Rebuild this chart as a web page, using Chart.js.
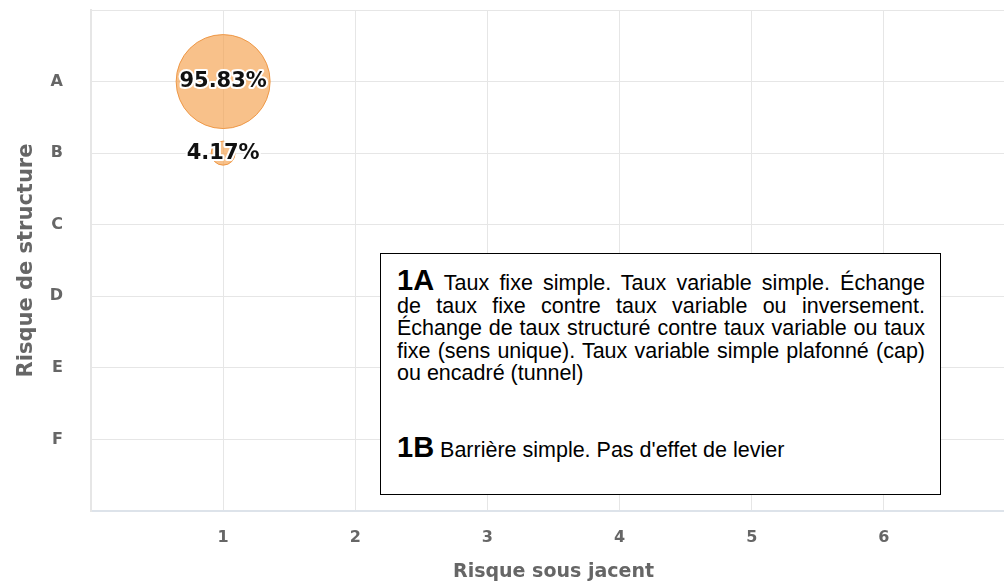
<!DOCTYPE html>
<html lang="fr">
<head>
<meta charset="utf-8">
<script src="https://cdn.jsdelivr.net/npm/chart.js@4"></script>
<style>
    html, body { margin: 0; padding: 0; background: #fff; overflow: hidden; }
    .wrap { position: relative; width: 1020px; height: 583px; }
    .legende {
        position: absolute; left: 380px; top: 253px; width: 561px; height: 242px;
        box-sizing: border-box; border: 1px solid #000; background: #fff;
        padding: 18px 15px 0 16px;
        font-family: "Liberation Sans", Arial, sans-serif; font-size: 21.5px; line-height: 22.5px;
        color: #000; white-space: nowrap;
    }
    .legende div { text-align: justify; text-align-last: justify; }
    .legende div.fin { text-align: left; text-align-last: left; }
    .legende b { font-size: 29px; line-height: 10px; }
    .legende .second { margin-top: 54.5px; }
</style>
</head>
<body>
<div class="wrap">
    <canvas id="risque"></canvas>
    <div class="legende">
        <div><b>1A</b> Taux fixe simple. Taux variable simple. Échange</div>
        <div>de taux fixe contre taux variable ou inversement.</div>
        <div>Échange de taux structuré contre taux variable ou taux</div>
        <div>fixe (sens unique). Taux variable simple plafonné (cap)</div>
        <div class="fin">ou encadré (tunnel)</div>
        <div class="fin second"><b>1B</b> Barrière simple. Pas d'effet de levier</div>
    </div>
</div>
<script>
// Catégories de risque de structure (axe vertical)
const structureLabels = ['A', 'B', 'C', 'D', 'E', 'F'];
// Risque sous-jacent (axe horizontal)
const sousJacentTicks = [1, 2, 3, 4, 5, 6];

// Répartition de l'encours par couple (sous-jacent, structure)
const pointX = [1, 1];
const pointY = ['A', 'B'];
const parts = [95.83, 4.17];

// Rayon de la bulle selon la part
function rayon(v) {
    return Math.max(12, Math.sqrt(v) * 4.8);
}

const points = parts.map((v, i) => ({
    x: pointX[i],
    y: structureLabels.indexOf(pointY[i]) + 1,
    r: rayon(v),
    part: v
}));

// Étiquettes de pourcentage au centre des bulles
const etiquettes = {
    id: 'etiquettes',
    afterDatasetsDraw(chart) {
        const ctx = chart.ctx;
        const meta = chart.getDatasetMeta(0);
        ctx.save();
        ctx.font = 'bold 21px "DejaVu Sans"';
        ctx.textAlign = 'center';
        ctx.textBaseline = 'middle';
        ctx.lineJoin = 'round';
        meta.data.forEach((el, i) => {
            const txt = parts[i].toFixed(2) + '%';
            ctx.lineWidth = 4;
            ctx.strokeStyle = '#fff';
            ctx.strokeText(txt, el.x, el.y);
            ctx.fillStyle = '#111';
            ctx.fillText(txt, el.x, el.y);
        });
        ctx.restore();
    }
};

// pas de marge supplémentaire pour les étiquettes en bout d'axe
function sansMarge(axis) {
    axis.paddingTop = 0;
    axis.paddingBottom = 0;
    axis.paddingLeft = 0;
    axis.paddingRight = 0;
}

const gris = '#e6e6e6';

new Chart(document.getElementById('risque'), {
    type: 'bubble',
    data: {
        datasets: [{
            data: points,
            backgroundColor: 'rgba(245, 160, 75, 0.65)',
            borderColor: 'rgba(236, 145, 60, 0.9)',
            borderWidth: 1
        }]
    },
    options: {
        responsive: true,
        maintainAspectRatio: false,
        animation: false,
        layout: { autoPadding: false, padding: { top: 10, right: 4, left: 10, bottom: 0 } },
        plugins: { legend: { display: false }, tooltip: { enabled: false } },
        scales: {
            x: {
                type: 'linear', min: 0, max: 7,
                afterBuildTicks: axis => {
                    axis.ticks = [0].concat(sousJacentTicks, [7]).map(v => ({ value: v }));
                },
                afterFit: axis => {
                    sansMarge(axis);
                    axis.height = 72;
                },
                ticks: {
                    callback: v => sousJacentTicks.includes(v) ? String(v) : '',
                    color: '#666', font: { family: 'DejaVu Sans', size: 16, weight: 'bold' },
                    padding: 17
                },
                grid: { color: gris, drawTicks: false },
                border: { color: '#dde3ea', width: 2 },
                title: {
                    display: true, text: 'Risque sous jacent', color: '#666',
                    font: { family: 'DejaVu Sans', size: 19, weight: 'bold' },
                    padding: { top: 13, bottom: 0 }
                }
            },
            y: {
                type: 'linear', min: 0, max: 7, reverse: true,
                afterBuildTicks: axis => {
                    const t = [];
                    for (let i = 0; i <= 7; i++) t.push({ value: i });
                    axis.ticks = t;
                },
                afterFit: axis => {
                    sansMarge(axis);
                    axis.width = 81;
                },
                ticks: {
                    callback: v => structureLabels[v - 1] || '',
                    color: '#666', font: { family: 'DejaVu Sans', size: 16, weight: 'bold' },
                    padding: 28
                },
                grid: { color: gris, drawTicks: false },
                border: { color: gris, width: 2 },
                title: {
                    display: true, text: 'Risque de structure', color: '#666',
                    font: { family: 'DejaVu Sans', size: 21, weight: 'bold' },
                    padding: { top: 4, bottom: 10 }
                }
            }
        }
    },
    plugins: [etiquettes]
});
</script>
</body>
</html>
